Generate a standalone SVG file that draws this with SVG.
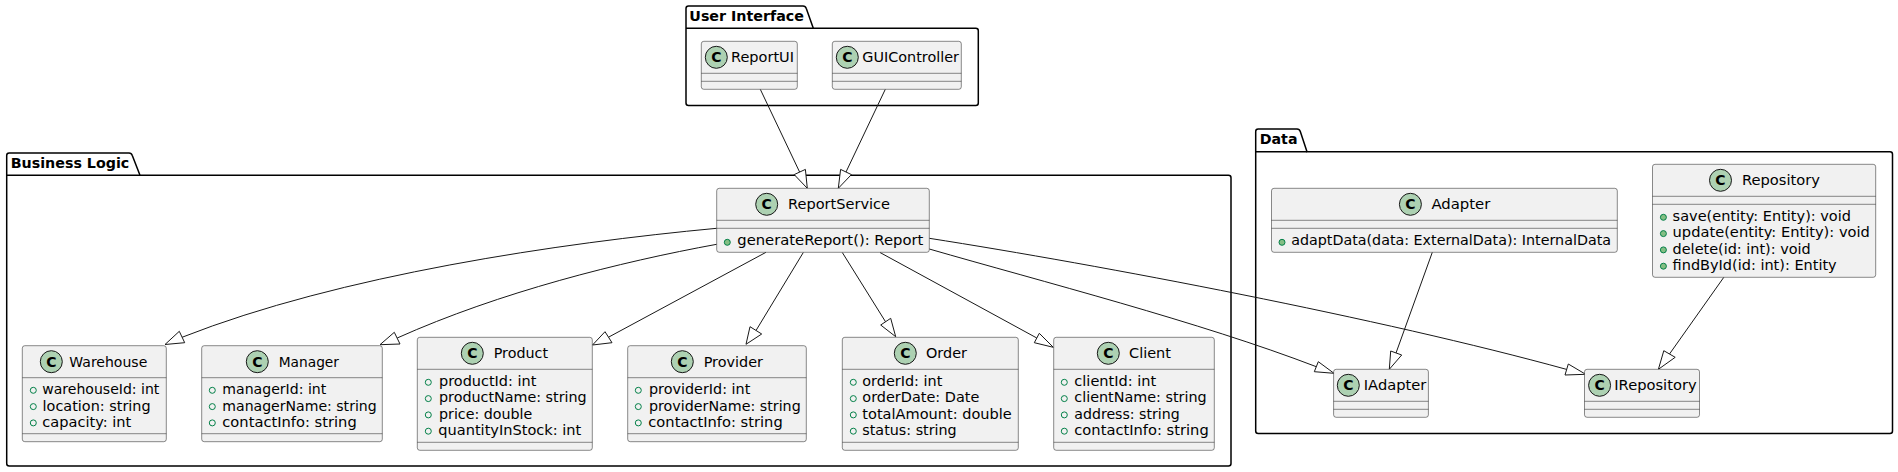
<svg xmlns="http://www.w3.org/2000/svg" width="1898" height="472" viewBox="0 0 1898 472">
<style>
text{font-family:"DejaVu Sans",sans-serif;font-size:14px;fill:#000}
.pkg{fill:#fff;stroke:#000;stroke-width:1.5}
.pt{font-weight:bold}
.box{fill:#F1F1F1;stroke:#181818;stroke-width:.5}
.div{stroke:#181818;stroke-width:.5;fill:none}
.spot{fill:#ADD1B2;stroke:#181818;stroke-width:1}
.c{font-weight:bold;text-anchor:middle}
.f{fill:none;stroke:#038048;stroke-width:1}
.m{fill:#84BE84;stroke:#038048;stroke-width:1}
.e{fill:none;stroke:#181818;stroke-width:1}
.h{fill:#fff;stroke:#181818;stroke-width:1}
</style>
<g id="pkg-user-interface">
<path class="pkg" d="M686,8.5q0,-2.5 2.5,-2.5L803,6q2.5,0 3.3,2.5L813.3,28.3L975.8,28.3q2.5,0 2.5,2.5L978.3,103q0,2.5 -2.5,2.5L688.5,105.5q-2.5,0 -2.5,-2.5Z"/>
<path class="pkg" d="M686,28.3L813.3,28.3"/>
<text class="pt" x="689.3" y="20.7" textLength="114.7" lengthAdjust="spacingAndGlyphs">User Interface</text>
</g>
<g id="pkg-business-logic">
<path class="pkg" d="M6.7,155.5q0,-2.5 2.5,-2.5L129,153q2.5,0 3.3,2.5L140,175.3L1228.5,175.3q2.5,0 2.5,2.5L1231,463.5q0,2.5 -2.5,2.5L9.2,466q-2.5,0 -2.5,-2.5Z"/>
<path class="pkg" d="M6.7,175.3L140,175.3"/>
<text class="pt" x="10.7" y="167.7" textLength="118.6" lengthAdjust="spacingAndGlyphs">Business Logic</text>
</g>
<g id="pkg-data">
<path class="pkg" d="M1255.7,131.5q0,-2.5 2.5,-2.5L1297,129q2.5,0 3.3,2.5L1307,151.7L1890,151.7q2.5,0 2.5,2.5L1892.5,431q0,2.5 -2.5,2.5L1258.2,433.5q-2.5,0 -2.5,-2.5Z"/>
<path class="pkg" d="M1255.7,151.7L1307,151.7"/>
<text class="pt" x="1259.7" y="144" textLength="37.8" lengthAdjust="spacingAndGlyphs">Data</text>
</g>
<g id="connectors">
<path class="e" d="M760.3,89.3L799.6,172"/><polygon class="h" points="807.3,188.3 805.4,169.4 794.2,174.6"/>
<path class="e" d="M885.3,89.3L846,172"/><polygon class="h" points="838.3,188.3 851.4,174.6 840.6,169.4"/>
<path class="e" d="M716.7,228.3C560,243 340,275 182,337.3"/><polygon class="h" points="165,344.5 179.3,331.3 184.7,342.7"/>
<path class="e" d="M716.7,244.3C620,262 500,292 397.2,338"/><polygon class="h" points="380,344.7 394.3,332.3 400,344"/>
<path class="e" d="M766,252.3L608.5,337.2"/><polygon class="h" points="592.5,345 605,331.7 612,342.7"/>
<path class="e" d="M803.3,252.5L756,330.5"/><polygon class="h" points="746,344.3 750,326.7 761.7,334"/>
<path class="e" d="M842.3,252.5L885.7,322"/><polygon class="h" points="895.7,336.7 890.7,318.3 880.7,325"/>
<path class="e" d="M880,252.5L1036.8,338"/><polygon class="h" points="1053.3,347.3 1039.3,333.3 1034.3,342.7"/>
<path class="e" d="M929.3,249C1040,281 1200,322 1316.3,366.7"/><polygon class="h" points="1334,373.3 1318.3,361.7 1314.3,371.7"/>
<path class="e" d="M929.3,238.3C1100,265 1380,318 1567,369.5"/><polygon class="h" points="1585.7,374.3 1568.3,364 1565,375"/>
<path class="e" d="M1432.3,252.3L1396,353"/><polygon class="h" points="1389.3,369.3 1401.7,355 1390.7,351"/>
<path class="e" d="M1723.8,277.3L1669.5,354"/><polygon class="h" points="1658.4,369.3 1675.2,357.3 1663.8,350.7"/>
</g>
<g id="ReportUI">
<rect class="box" x="701.3" y="41.3" width="96" height="48" rx="2.5"/>
<path class="div" d="M701.3,73.3H797.3M701.3,81.3H797.3"/>
<circle class="spot" cx="716.3" cy="57.3" r="11"/><text class="c" x="716.3" y="62.3">C</text>
<text x="731" y="62.3" textLength="63" lengthAdjust="spacingAndGlyphs">ReportUI</text>
</g>
<g id="GUIController">
<rect class="box" x="832.3" y="41.3" width="129" height="48" rx="2.5"/>
<path class="div" d="M832.3,73.3H961.3M832.3,81.3H961.3"/>
<circle class="spot" cx="847.3" cy="57.3" r="11"/><text class="c" x="847.3" y="62.3">C</text>
<text x="862.3" y="62.3" textLength="96.7" lengthAdjust="spacingAndGlyphs">GUIController</text>
</g>
<g id="ReportService">
<rect class="box" x="716.7" y="188.3" width="212.6" height="64" rx="2.5"/>
<path class="div" d="M716.7,220.3H929.3M716.7,228.3H929.3"/>
<circle class="spot" cx="766.7" cy="204.3" r="11"/><text class="c" x="766.7" y="209.3">C</text>
<text x="788" y="209.3" textLength="102" lengthAdjust="spacingAndGlyphs">ReportService</text>
<circle class="m" cx="727.3" cy="242.3" r="3"/>
<text x="737.3" y="245" textLength="186" lengthAdjust="spacingAndGlyphs">generateReport(): Report</text>
</g>
<g id="Warehouse">
<rect class="box" x="22.3" y="345.7" width="144" height="96" rx="2.5"/>
<path class="div" d="M22.3,377.7H166.3M22.3,433.7H166.3"/>
<circle class="spot" cx="51.3" cy="361.7" r="11"/><text class="c" x="51.3" y="366.7">C</text>
<text x="69.3" y="366.6" textLength="78" lengthAdjust="spacingAndGlyphs">Warehouse</text>
<circle class="f" cx="33.3" cy="390.3" r="3"/><text x="42.3" y="394.3" textLength="117" lengthAdjust="spacingAndGlyphs">warehouseId: int</text>
<circle class="f" cx="33.3" cy="406.6" r="3"/><text x="42.6" y="410.6" textLength="108" lengthAdjust="spacingAndGlyphs">location: string</text>
<circle class="f" cx="33.3" cy="422.9" r="3"/><text x="42.3" y="426.9" textLength="89" lengthAdjust="spacingAndGlyphs">capacity: int</text>
</g>
<g id="Manager">
<rect class="box" x="201.7" y="345.7" width="180.6" height="96" rx="2.5"/>
<path class="div" d="M201.7,377.7H382.3M201.7,433.7H382.3"/>
<circle class="spot" cx="257.3" cy="361.7" r="11"/><text class="c" x="257.3" y="366.7">C</text>
<text x="278.7" y="366.6" textLength="60.3" lengthAdjust="spacingAndGlyphs">Manager</text>
<circle class="f" cx="212.3" cy="390.3" r="3"/><text x="222.3" y="394.3" textLength="104" lengthAdjust="spacingAndGlyphs">managerId: int</text>
<circle class="f" cx="212.3" cy="406.6" r="3"/><text x="222.3" y="410.6" textLength="154.4" lengthAdjust="spacingAndGlyphs">managerName: string</text>
<circle class="f" cx="212.3" cy="422.9" r="3"/><text x="222.3" y="426.9" textLength="134.4" lengthAdjust="spacingAndGlyphs">contactInfo: string</text>
</g>
<g id="Product">
<rect class="box" x="417.3" y="337.3" width="175" height="113" rx="2.5"/>
<path class="div" d="M417.3,369.3H592.3M417.3,442.3H592.3"/>
<circle class="spot" cx="472.3" cy="353.3" r="11"/><text class="c" x="472.3" y="358.3">C</text>
<text x="493.7" y="358.2" textLength="54.3" lengthAdjust="spacingAndGlyphs">Product</text>
<circle class="f" cx="428.3" cy="382.3" r="3"/><text x="439" y="386" textLength="97.3" lengthAdjust="spacingAndGlyphs">productId: int</text>
<circle class="f" cx="428.3" cy="398.6" r="3"/><text x="439" y="402.3" textLength="147.7" lengthAdjust="spacingAndGlyphs">productName: string</text>
<circle class="f" cx="428.3" cy="414.9" r="3"/><text x="439" y="418.6" textLength="93.3" lengthAdjust="spacingAndGlyphs">price: double</text>
<circle class="f" cx="428.3" cy="431.2" r="3"/><text x="438.3" y="434.9" textLength="143" lengthAdjust="spacingAndGlyphs">quantityInStock: int</text>
</g>
<g id="Provider">
<rect class="box" x="627.7" y="345.7" width="178.6" height="96" rx="2.5"/>
<path class="div" d="M627.7,377.7H806.3M627.7,433.7H806.3"/>
<circle class="spot" cx="682.3" cy="361.7" r="11"/><text class="c" x="682.3" y="366.7">C</text>
<text x="703.7" y="366.6" textLength="59.3" lengthAdjust="spacingAndGlyphs">Provider</text>
<circle class="f" cx="638.3" cy="390.3" r="3"/><text x="649" y="394.3" textLength="101.3" lengthAdjust="spacingAndGlyphs">providerId: int</text>
<circle class="f" cx="638.3" cy="406.6" r="3"/><text x="649" y="410.6" textLength="151.7" lengthAdjust="spacingAndGlyphs">providerName: string</text>
<circle class="f" cx="638.3" cy="422.9" r="3"/><text x="648.3" y="426.9" textLength="134.4" lengthAdjust="spacingAndGlyphs">contactInfo: string</text>
</g>
<g id="Order">
<rect class="box" x="842.3" y="337.3" width="176" height="113" rx="2.5"/>
<path class="div" d="M842.3,369.3H1018.3M842.3,442.3H1018.3"/>
<circle class="spot" cx="905.3" cy="353.3" r="11"/><text class="c" x="905.3" y="358.3">C</text>
<text x="926" y="358.2" textLength="41" lengthAdjust="spacingAndGlyphs">Order</text>
<circle class="f" cx="853.3" cy="382.3" r="3"/><text x="862.3" y="386" textLength="80" lengthAdjust="spacingAndGlyphs">orderId: int</text>
<circle class="f" cx="853.3" cy="398.6" r="3"/><text x="862.3" y="402.3" textLength="117" lengthAdjust="spacingAndGlyphs">orderDate: Date</text>
<circle class="f" cx="853.3" cy="414.9" r="3"/><text x="862.3" y="418.6" textLength="149.4" lengthAdjust="spacingAndGlyphs">totalAmount: double</text>
<circle class="f" cx="853.3" cy="431.2" r="3"/><text x="862.3" y="434.9" textLength="94.4" lengthAdjust="spacingAndGlyphs">status: string</text>
</g>
<g id="Client">
<rect class="box" x="1053.7" y="337.3" width="160.6" height="113" rx="2.5"/>
<path class="div" d="M1053.7,369.3H1214.3M1053.7,442.3H1214.3"/>
<circle class="spot" cx="1108.3" cy="353.3" r="11"/><text class="c" x="1108.3" y="358.3">C</text>
<text x="1129" y="358.2" textLength="42" lengthAdjust="spacingAndGlyphs">Client</text>
<circle class="f" cx="1064.3" cy="382.3" r="3"/><text x="1074.3" y="386" textLength="82" lengthAdjust="spacingAndGlyphs">clientId: int</text>
<circle class="f" cx="1064.3" cy="398.6" r="3"/><text x="1074.3" y="402.3" textLength="132.4" lengthAdjust="spacingAndGlyphs">clientName: string</text>
<circle class="f" cx="1064.3" cy="414.9" r="3"/><text x="1074.3" y="418.6" textLength="105.4" lengthAdjust="spacingAndGlyphs">address: string</text>
<circle class="f" cx="1064.3" cy="431.2" r="3"/><text x="1074.3" y="434.9" textLength="134.4" lengthAdjust="spacingAndGlyphs">contactInfo: string</text>
</g>
<g id="Adapter">
<rect class="box" x="1271.5" y="188.3" width="345.8" height="64" rx="2.5"/>
<path class="div" d="M1271.5,220.3H1617.3M1271.5,228.3H1617.3"/>
<circle class="spot" cx="1410.4" cy="204.3" r="11"/><text class="c" x="1410.4" y="209.3">C</text>
<text x="1431.4" y="209.2" textLength="59" lengthAdjust="spacingAndGlyphs">Adapter</text>
<circle class="m" cx="1282" cy="242.3" r="3"/>
<text x="1291.2" y="245" textLength="319.8" lengthAdjust="spacingAndGlyphs">adaptData(data: ExternalData): InternalData</text>
</g>
<g id="Repository">
<rect class="box" x="1652.5" y="164.3" width="223.2" height="113" rx="2.5"/>
<path class="div" d="M1652.5,196.3H1875.7M1652.5,204.3H1875.7"/>
<circle class="spot" cx="1720.5" cy="180.3" r="11"/><text class="c" x="1720.5" y="185.3">C</text>
<text x="1742" y="185.2" textLength="78" lengthAdjust="spacingAndGlyphs">Repository</text>
<circle class="m" cx="1663.4" cy="217.3" r="3"/><text x="1672.6" y="221" textLength="178.4" lengthAdjust="spacingAndGlyphs">save(entity: Entity): void</text>
<circle class="m" cx="1663.4" cy="233.6" r="3"/><text x="1672.6" y="237.3" textLength="197.3" lengthAdjust="spacingAndGlyphs">update(entity: Entity): void</text>
<circle class="m" cx="1663.4" cy="249.9" r="3"/><text x="1672.6" y="253.6" textLength="138.1" lengthAdjust="spacingAndGlyphs">delete(id: int): void</text>
<circle class="m" cx="1663.4" cy="266.2" r="3"/><text x="1672.6" y="269.9" textLength="164.1" lengthAdjust="spacingAndGlyphs">findById(id: int): Entity</text>
</g>
<g id="IAdapter">
<rect class="box" x="1333.6" y="369.3" width="94.8" height="48" rx="2.5"/>
<path class="div" d="M1333.6,401.3H1428.4M1333.6,409.3H1428.4"/>
<circle class="spot" cx="1348.3" cy="385.3" r="11"/><text class="c" x="1348.3" y="390.3">C</text>
<text x="1363.8" y="390.3" textLength="62.5" lengthAdjust="spacingAndGlyphs">IAdapter</text>
</g>
<g id="IRepository">
<rect class="box" x="1584.5" y="369.3" width="115" height="48" rx="2.5"/>
<path class="div" d="M1584.5,401.3H1699.5M1584.5,409.3H1699.5"/>
<circle class="spot" cx="1599.6" cy="385.3" r="11"/><text class="c" x="1599.6" y="390.3">C</text>
<text x="1614.3" y="390.3" textLength="82.3" lengthAdjust="spacingAndGlyphs">IRepository</text>
</g>
</svg>
